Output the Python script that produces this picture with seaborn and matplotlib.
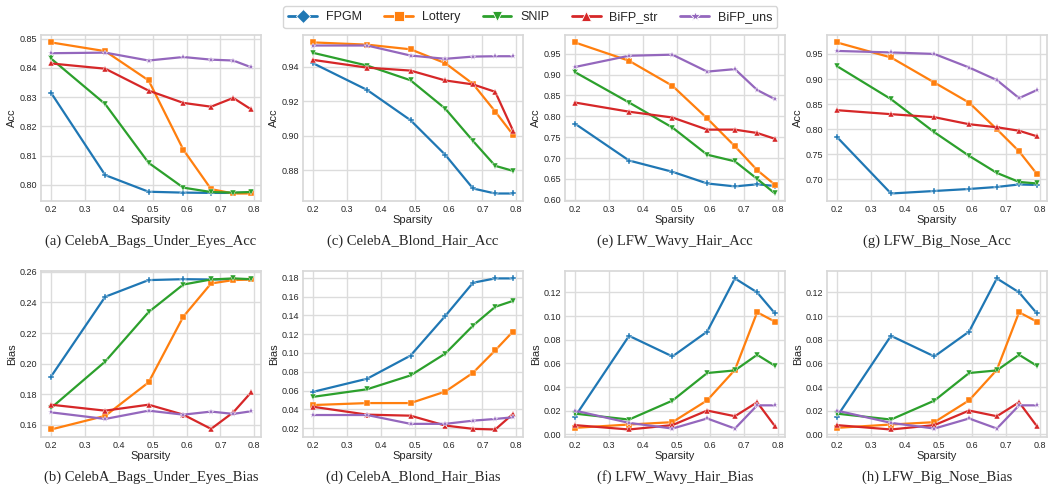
import matplotlib
matplotlib.use('Agg')
import matplotlib.pyplot as plt
import seaborn as sns
from matplotlib.lines import Line2D

# Sparsity levels (1 - 0.8^k)
sparsity = [0.2, 0.36, 0.488, 0.5904, 0.67232, 0.737856, 0.7902848]

methods = ['FPGM', 'Lottery', 'SNIP', 'BiFP_str', 'BiFP_uns']
colors = ['#1f77b4', '#ff7f0e', '#2ca02c', '#d62728', '#9467bd']
plot_markers = ['P', 's', 'v', '^', '*']
legend_markers = ['D', 's', 'v', '^', '*']

# (a) CelebA_Bags_Under_Eyes_Acc
bags_acc_fpgm = [0.8315, 0.8033, 0.7976, 0.7973, 0.7972, 0.7972, 0.7973]
bags_acc_lottery = [0.8487, 0.8457, 0.8357, 0.8120, 0.7985, 0.7970, 0.7970]
bags_acc_snip = [0.8432, 0.8276, 0.8075, 0.7990, 0.7975, 0.7973, 0.7975]
bags_acc_str = [0.8415, 0.8397, 0.8322, 0.8280, 0.8267, 0.8297, 0.8258]
bags_acc_uns = [0.8450, 0.8452, 0.8425, 0.8437, 0.8428, 0.8425, 0.8402]

# (b) CelebA_Bags_Under_Eyes_Bias
bags_bias_fpgm = [0.1915, 0.2437, 0.2546, 0.2552, 0.2550, 0.2552, 0.2552]
bags_bias_lottery = [0.1570, 0.1659, 0.1878, 0.2307, 0.2524, 0.2546, 0.2550]
bags_bias_snip = [0.1710, 0.2014, 0.2337, 0.2517, 0.2550, 0.2557, 0.2552]
bags_bias_str = [0.1732, 0.1693, 0.1732, 0.1667, 0.1574, 0.1682, 0.1812]
bags_bias_uns = [0.1682, 0.1639, 0.1693, 0.1667, 0.1687, 0.1672, 0.1689]

# (c) CelebA_Blond_Hair_Acc
blond_acc_fpgm = [0.9420, 0.9265, 0.9090, 0.8890, 0.8695, 0.8666, 0.8666]
blond_acc_lottery = [0.9540, 0.9527, 0.9500, 0.9420, 0.9300, 0.9140, 0.9006]
blond_acc_snip = [0.9480, 0.9406, 0.9321, 0.9157, 0.8970, 0.8826, 0.8797]
blond_acc_str = [0.9439, 0.9394, 0.9377, 0.9320, 0.9297, 0.9254, 0.9030]
blond_acc_uns = [0.9522, 0.9522, 0.9464, 0.9445, 0.9458, 0.9460, 0.9460]

# (d) CelebA_Blond_Hair_Bias
blond_bias_fpgm = [0.0586, 0.0726, 0.0972, 0.1393, 0.1747, 0.1793, 0.1793]
blond_bias_lottery = [0.0446, 0.0467, 0.0467, 0.0589, 0.0789, 0.1028, 0.1228]
blond_bias_snip = [0.0533, 0.0614, 0.0761, 0.0993, 0.1291, 0.1491, 0.1554]
blond_bias_str = [0.0428, 0.0344, 0.0333, 0.0228, 0.0193, 0.0186, 0.0351]
blond_bias_uns = [0.0340, 0.0340, 0.0246, 0.0246, 0.0280, 0.0298, 0.0316]

# (e) LFW_Wavy_Hair_Acc
wavy_acc_fpgm = [0.7825, 0.6940, 0.6670, 0.6390, 0.6320, 0.6370, 0.6330]
wavy_acc_lottery = [0.9770, 0.9330, 0.8730, 0.7950, 0.7280, 0.6710, 0.6360]
wavy_acc_snip = [0.9060, 0.8330, 0.7730, 0.7080, 0.6920, 0.6500, 0.6150]
wavy_acc_str = [0.8330, 0.8110, 0.7970, 0.7680, 0.7680, 0.7600, 0.7460]
wavy_acc_uns = [0.9180, 0.9450, 0.9476, 0.9070, 0.9130, 0.8630, 0.8410]

# (f) LFW_Wavy_Hair_Bias
wavy_bias_fpgm = [0.0148, 0.0833, 0.0659, 0.0869, 0.1318, 0.1200, 0.1023]
wavy_bias_lottery = [0.0056, 0.0084, 0.0104, 0.0288, 0.0546, 0.1032, 0.0953]
wavy_bias_snip = [0.0176, 0.0126, 0.0286, 0.0519, 0.0541, 0.0673, 0.0580]
wavy_bias_str = [0.0079, 0.0042, 0.0079, 0.0202, 0.0154, 0.0272, 0.0070]
wavy_bias_uns = [0.0202, 0.0098, 0.0050, 0.0135, 0.0050, 0.0246, 0.0246]

# (g) LFW_Big_Nose_Acc
nose_acc_fpgm = [0.7850, 0.6720, 0.6770, 0.6810, 0.6850, 0.6900, 0.6890]
nose_acc_lottery = [0.9730, 0.9430, 0.8930, 0.8530, 0.8000, 0.7560, 0.7110]
nose_acc_snip = [0.9260, 0.8600, 0.7940, 0.7470, 0.7130, 0.6950, 0.6920]
nose_acc_str = [0.8380, 0.8300, 0.8240, 0.8100, 0.8040, 0.7970, 0.7860]
nose_acc_uns = [0.9560, 0.9530, 0.9500, 0.9230, 0.8980, 0.8620, 0.8780]

# (h) LFW_Big_Nose_Bias
nose_bias_fpgm = [0.0148, 0.0833, 0.0659, 0.0869, 0.1318, 0.1200, 0.1023]
nose_bias_lottery = [0.0056, 0.0084, 0.0104, 0.0288, 0.0546, 0.1032, 0.0953]
nose_bias_snip = [0.0176, 0.0126, 0.0286, 0.0519, 0.0541, 0.0673, 0.0580]
nose_bias_str = [0.0079, 0.0042, 0.0079, 0.0202, 0.0154, 0.0272, 0.0070]
nose_bias_uns = [0.0202, 0.0098, 0.0050, 0.0135, 0.0050, 0.0246, 0.0246]

panels = [
    ('(a) CelebA_Bags_Under_Eyes_Acc', 'Acc',
     [bags_acc_fpgm, bags_acc_lottery, bags_acc_snip, bags_acc_str, bags_acc_uns]),
    ('(c) CelebA_Blond_Hair_Acc', 'Acc',
     [blond_acc_fpgm, blond_acc_lottery, blond_acc_snip, blond_acc_str, blond_acc_uns]),
    ('(e) LFW_Wavy_Hair_Acc', 'Acc',
     [wavy_acc_fpgm, wavy_acc_lottery, wavy_acc_snip, wavy_acc_str, wavy_acc_uns]),
    ('(g) LFW_Big_Nose_Acc', 'Acc',
     [nose_acc_fpgm, nose_acc_lottery, nose_acc_snip, nose_acc_str, nose_acc_uns]),
    ('(b) CelebA_Bags_Under_Eyes_Bias', 'Bias',
     [bags_bias_fpgm, bags_bias_lottery, bags_bias_snip, bags_bias_str, bags_bias_uns]),
    ('(d) CelebA_Blond_Hair_Bias', 'Bias',
     [blond_bias_fpgm, blond_bias_lottery, blond_bias_snip, blond_bias_str, blond_bias_uns]),
    ('(f) LFW_Wavy_Hair_Bias', 'Bias',
     [wavy_bias_fpgm, wavy_bias_lottery, wavy_bias_snip, wavy_bias_str, wavy_bias_uns]),
    ('(h) LFW_Big_Nose_Bias', 'Bias',
     [nose_bias_fpgm, nose_bias_lottery, nose_bias_snip, nose_bias_str, nose_bias_uns]),
]

sns.set_theme(style='whitegrid')
plt.rcParams['font.family'] = ['Liberation Sans', 'DejaVu Sans']

fig, axs = plt.subplots(2, 4, figsize=(10.5, 4.84), dpi=100)
fig.subplots_adjust(left=0.039, right=0.997, top=0.928, bottom=0.097,
                    wspace=0.19, hspace=0.42)

for ax, (caption, ylabel, series) in zip(axs.flat, panels):
    for vals, color, mk in zip(series, colors, plot_markers):
        sns.lineplot(x=sparsity, y=vals, ax=ax, color=color, marker=mk,
                     markersize=5, markeredgecolor='white',
                     markeredgewidth=0.3, linewidth=1.6)
    ax.set_xlabel('Sparsity', fontsize=8, labelpad=1)
    ax.set_ylabel(ylabel, fontsize=8, labelpad=2)
    ax.tick_params(axis='both', labelsize=6.5, pad=2.5, length=0)
    ax.set_xticks([0.2, 0.3, 0.4, 0.5, 0.6, 0.7, 0.8])
    ax.grid(color='#dcdcdc', linewidth=1.0)
    for s in ax.spines.values():
        s.set_color('#d8d8d8')
    ax.text(0.5, -0.24, caption, transform=ax.transAxes, ha='center',
            va='center', fontsize=10.5, family='Liberation Serif')

handles = [Line2D([0], [0], color=c, marker=m, markersize=7,
                  markeredgecolor='white', markeredgewidth=0.6, linewidth=2)
           for c, m in zip(colors, legend_markers)]
fig.legend(handles, methods, loc='upper center', bbox_to_anchor=(0.505, 1.0),
           ncol=5, fontsize=9, handlelength=2.3, handletextpad=0.7,
           columnspacing=1.8, frameon=True, edgecolor='#cccccc', borderpad=0.4)

fig.savefig('out.png', dpi=100)
